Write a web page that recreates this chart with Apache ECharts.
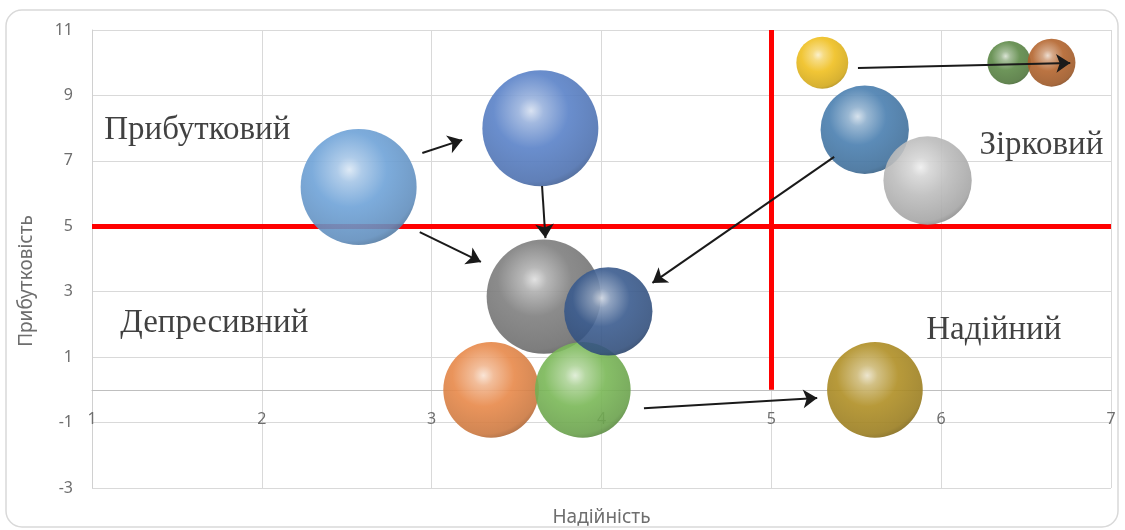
<!DOCTYPE html>
<html>
<head>
<meta charset="utf-8">
<script src="https://cdn.jsdelivr.net/npm/echarts@6/dist/echarts.min.js"></script>
<style>
  html, body { margin: 0; padding: 0; background: #ffffff; }
  #chart { width: 1125px; height: 530px; }
</style>
</head>
<body>
<div id="chart"></div>
<script>
// надійність (x), прибутковість (y), розмір бульбашки
const reliability = [2.57, 3.64, 3.66, 3.35, 3.89, 4.04, 5.61, 5.30, 6.40, 6.65, 5.55, 5.92]
const profit = [6.2, 8.0, 2.85, 0, 0, 2.4, 0, 10, 10, 10, 7.95, 6.4]
const bubbleSize = [100, 100, 97, 68, 68, 58, 68, 20, 14, 17, 58, 58]
const palette = ['#6fa3d8', '#5a82c8', '#7f7f7f', '#e8894a', '#7ab857', '#3b5c8f',
  '#b08f25', '#f0c020', '#5e8a48', '#b4652e', '#4a7fb0', '#bdbdbd']

// стрілки переходів [від, до]
const arrows = [
  [[2.945, 7.24], [3.18, 7.64]],
  [[3.65, 6.23], [3.67, 4.64]],
  [[2.93, 4.82], [3.29, 3.91]],
  [[5.37, 7.12], [4.30, 3.27]],
  [[5.51, 9.84], [6.76, 9.99]],
  [[4.25, -0.56], [5.27, -0.25]]
]
// межі квадрантів
const dividers = [
  [[1, 5], [7, 5]],
  [[5, 0], [5, 11]]
]
const quadrantNames = ['Прибутковий', 'Зірковий', 'Депресивний', 'Надійний']
const quadrantPos = [[1.62, 7.94], [6.59, 7.48], [1.72, 2.04], [6.31, 1.83]]

const xTicks = { min: 1, max: 7, step: 1 }
const yTicks = { min: -3, max: 11, step: 2 }

const shade = (hex, amt) => {
  const n = parseInt(hex.slice(1), 16)
  let r = n >> 16, g = (n >> 8) & 255, b = n & 255
  const f = c => Math.round(amt >= 0 ? c + (255 - c) * amt : c * (1 + amt))
  return `rgb(${f(r)},${f(g)},${f(b)})`
}
// об'ємна куля — радіальний градієнт
const sphere = hex => ({
  type: 'radial',
  x: 0.42,
  y: 0.35,
  r: 0.72,
  colorStops: [
    { offset: 0, color: shade(hex, 0.75) },
    { offset: 0.15, color: shade(hex, 0.38) },
    { offset: 0.45, color: hex },
    { offset: 0.85, color: shade(hex, -0.12) },
    { offset: 1, color: shade(hex, -0.35) }
  ]
})

const myChart = echarts.init(document.getElementById('chart'))
const options = {
  animation: false,
  graphic: [{
    type: 'rect',
    shape: { x: 6, y: 10, width: 1112, height: 517, r: 16 },
    style: { fill: 'none', stroke: '#d9d9d9', lineWidth: 1.5 },
    z: -10
  }],
  grid: {
    left: 92,
    right: 14,
    top: 30,
    bottom: 42,
    containLabel: false,
    outerBoundsMode: 'none'
  },
  xAxis: {
    type: 'value',
    min: xTicks.min,
    max: xTicks.max,
    interval: xTicks.step,
    name: 'Надійність',
    nameLocation: 'middle',
    nameGap: 20,
    nameTextStyle: { color: '#6e6e6e', fontSize: 19, fontFamily: 'Noto Sans' },
    axisLine: { onZero: true, lineStyle: { color: '#bfbfbf', width: 1 } },
    axisTick: { show: false },
    axisLabel: { color: '#6e6e6e', fontSize: 16, fontFamily: 'Noto Sans', margin: -77 },
    splitLine: { lineStyle: { color: '#d9d9d9' } }
  },
  yAxis: {
    type: 'value',
    min: yTicks.min,
    max: yTicks.max,
    interval: yTicks.step,
    name: 'Прибутковість',
    nameLocation: 'middle',
    nameGap: 56,
    nameTextStyle: { color: '#6e6e6e', fontSize: 19, fontFamily: 'Noto Sans', padding: [0, 44, 0, 0] },
    axisLine: { show: true, onZero: false, lineStyle: { color: '#d0d0d0' } },
    axisTick: { show: false },
    axisLabel: { color: '#6e6e6e', fontSize: 16, fontFamily: 'Noto Sans', margin: 19 },
    splitLine: { lineStyle: { color: '#d9d9d9' } }
  },
  series: [
    {
      type: 'lines',
      coordinateSystem: 'cartesian2d',
      z: 1,
      symbol: 'none',
      lineStyle: { color: '#ff0000', width: 5, opacity: 1 },
      data: dividers.map(d => ({ coords: d }))
    },
    {
      type: 'scatter',
      z: 3,
      symbolSize: val => 11.6 * Math.sqrt(val[2]),
      data: reliability.map((x, i) => ({
        value: [x, profit[i], bubbleSize[i]],
        itemStyle: { color: sphere(palette[i]), opacity: 0.9 }
      }))
    },
    {
      type: 'lines',
      coordinateSystem: 'cartesian2d',
      z: 4,
      symbol: ['none', 'arrow'],
      symbolSize: 14,
      lineStyle: { color: '#1a1a1a', width: 2, opacity: 1 },
      data: arrows.map(a => ({ coords: a }))
    },
    {
      type: 'scatter',
      z: 5,
      symbolSize: 0,
      silent: true,
      label: {
        show: true,
        position: 'inside',
        formatter: p => p.name,
        color: '#111111',
        fontSize: 33,
        fontFamily: 'Liberation Serif'
      },
      data: quadrantNames.map((n, i) => ({ name: n, value: quadrantPos[i] }))
    }
  ]
}
myChart.setOption(options)
window.addEventListener('resize', () => myChart.resize())
</script>
</body>
</html>
